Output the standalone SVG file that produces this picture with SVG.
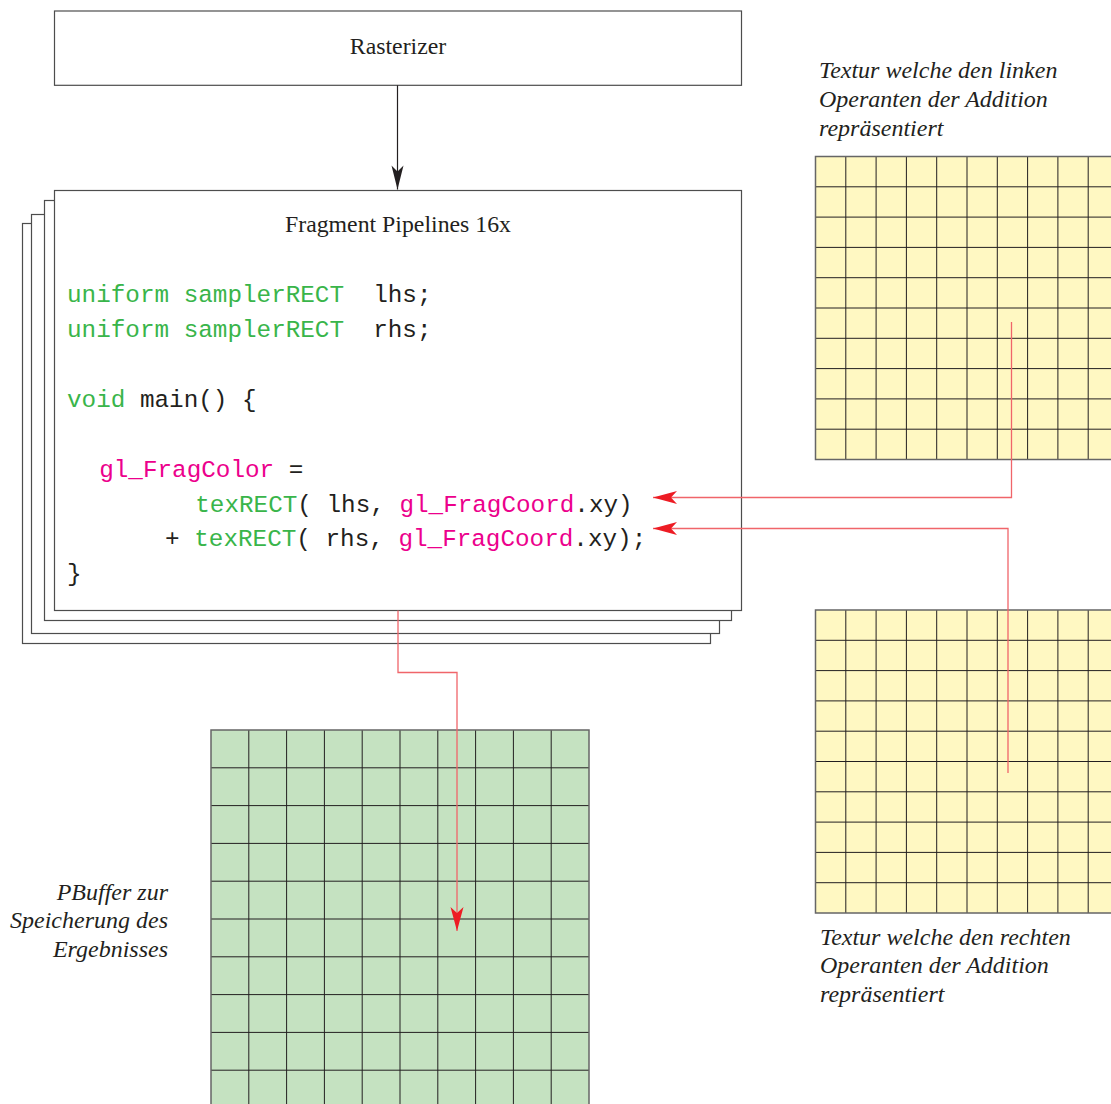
<svg xmlns="http://www.w3.org/2000/svg" width="1111" height="1104" viewBox="0 0 1111 1104">
  <style>
    .box { fill: #ffffff; stroke: #4d4d4d; stroke-width: 1.2; }
    .label { font-family: "Liberation Serif", "Times New Roman", serif; font-size: 23.8px; fill: #231f20; }
    .caption { font-family: "Liberation Serif", "Times New Roman", serif; font-size: 24px; font-style: italic; fill: #231f20; }
    .code { font-family: "Liberation Mono", "Courier New", monospace; font-size: 24.3px; fill: #231f20; white-space: pre; }
    .kw { fill: #39b54a; }
    .gl { fill: #ec008c; }
    .gridline { fill: none; stroke: #231f20; stroke-width: 1; }
    .gridedge { fill: none; stroke: #666666; stroke-width: 1.5; }
    .flow { fill: none; stroke: #231f20; stroke-width: 1.2; }
    .data { fill: none; stroke: #f0656a; stroke-width: 1.3; }
  </style>
  <defs>
    <marker id="head-black" markerUnits="userSpaceOnUse" markerWidth="24" markerHeight="12" refX="24" refY="6" orient="auto" overflow="visible">
      <path d="M0,0 L24,6 L0,12 L6,6 z" fill="#231f20"/>
    </marker>
    <marker id="head-red" markerUnits="userSpaceOnUse" markerWidth="24" markerHeight="13" refX="24" refY="6.5" orient="auto" overflow="visible">
      <path d="M0,0 L24,6.5 L0,13 L6,6.5 z" fill="#ed1c24"/>
    </marker>
  </defs>

  <rect width="1111" height="1104" fill="#ffffff"/>

  <!-- Rasterizer stage -->
  <g id="rasterizer">
    <rect class="box" x="54.5" y="11" width="687" height="74.3"/>
    <text class="label" x="398" y="54" text-anchor="middle">Rasterizer</text>
  </g>

  <!-- Fragment pipelines: a stack of four sheets, front one holds the shader -->
  <g id="fragment-pipelines">
    <rect class="box" x="22.5" y="223.5" width="688" height="420"/>
    <rect class="box" x="31.5" y="214.5" width="688" height="419"/>
    <rect class="box" x="44.5" y="200.5" width="687" height="420"/>
    <rect class="box" x="54.5" y="190.5" width="687" height="420"/>
    <text class="label" x="398" y="232" text-anchor="middle">Fragment Pipelines 16x</text>
    <text class="code" xml:space="preserve" x="67" y="302"><tspan class="kw">uniform samplerRECT</tspan>  lhs;</text>
    <text class="code" xml:space="preserve" x="67" y="337"><tspan class="kw">uniform samplerRECT</tspan>  rhs;</text>
    <text class="code" xml:space="preserve" x="67" y="407"><tspan class="kw">void</tspan> main() {</text>
    <text class="code" xml:space="preserve" x="70" y="477">  <tspan class="gl">gl_FragColor</tspan> =</text>
    <text class="code" xml:space="preserve" x="64" y="512">         <tspan class="kw">texRECT</tspan>( lhs, <tspan class="gl">gl_FragCoord</tspan>.xy)</text>
    <text class="code" xml:space="preserve" x="63" y="546">       + <tspan class="kw">texRECT</tspan>( rhs, <tspan class="gl">gl_FragCoord</tspan>.xy);</text>
    <text class="code" xml:space="preserve" x="67" y="581">}</text>
  </g>

  <!-- Left operand texture -->
  <g id="texture-lhs">
    <rect x="815.5" y="156.5" width="303" height="303" fill="#fff8c2"/>
    <path class="gridline" d="M845.8,156.5V459.5M876.1,156.5V459.5M906.4,156.5V459.5M936.7,156.5V459.5M967,156.5V459.5M997.3,156.5V459.5M1027.6,156.5V459.5M1057.9,156.5V459.5M1088.2,156.5V459.5
      M815.5,186.8H1118.5M815.5,217.1H1118.5M815.5,247.4H1118.5M815.5,277.7H1118.5M815.5,308H1118.5M815.5,338.3H1118.5M815.5,368.6H1118.5M815.5,398.9H1118.5M815.5,429.2H1118.5"/>
    <rect class="gridedge" x="815.5" y="156.5" width="303" height="303"/>
    <text class="caption" x="819" y="78">Textur welche den linken</text>
    <text class="caption" x="819" y="107">Operanten der Addition</text>
    <text class="caption" x="819" y="136">repräsentiert</text>
  </g>

  <!-- Right operand texture -->
  <g id="texture-rhs">
    <rect x="815.5" y="610" width="303" height="303" fill="#fff8c2"/>
    <path class="gridline" d="M845.8,610V913M876.1,610V913M906.4,610V913M936.7,610V913M967,610V913M997.3,610V913M1027.6,610V913M1057.9,610V913M1088.2,610V913
      M815.5,640.3H1118.5M815.5,670.6H1118.5M815.5,700.9H1118.5M815.5,731.2H1118.5M815.5,761.5H1118.5M815.5,791.8H1118.5M815.5,822.1H1118.5M815.5,852.4H1118.5M815.5,882.7H1118.5"/>
    <rect class="gridedge" x="815.5" y="610" width="303" height="303"/>
    <text class="caption" x="820" y="945">Textur welche den rechten</text>
    <text class="caption" x="820" y="973">Operanten der Addition</text>
    <text class="caption" x="820" y="1002">repräsentiert</text>
  </g>

  <!-- Result pbuffer -->
  <g id="pbuffer">
    <rect x="211" y="730" width="378" height="378" fill="#c5e2c1"/>
    <path class="gridline" d="M248.8,730V1108M286.6,730V1108M324.4,730V1108M362.2,730V1108M400,730V1108M437.8,730V1108M475.6,730V1108M513.4,730V1108M551.2,730V1108
      M211,767.8H589M211,805.6H589M211,843.4H589M211,881.2H589M211,919H589M211,956.8H589M211,994.6H589M211,1032.4H589M211,1070.2H589"/>
    <rect class="gridedge" x="211" y="730" width="378" height="378"/>
    <text class="caption" x="168" y="900" text-anchor="end">PBuffer zur</text>
    <text class="caption" x="168" y="928" text-anchor="end">Speicherung des</text>
    <text class="caption" x="168" y="957" text-anchor="end">Ergebnisses</text>
  </g>

  <!-- Connectors -->
  <g id="connectors">
    <path class="flow" d="M397.5,85.3V189.5" marker-end="url(#head-black)"/>
    <path class="data" d="M1011.5,322V497.5H653" marker-end="url(#head-red)"/>
    <path class="data" d="M1008,773V528.5H653" marker-end="url(#head-red)"/>
    <path class="data" d="M398,610.5V672.5H457V931" marker-end="url(#head-red)"/>
  </g>
</svg>
